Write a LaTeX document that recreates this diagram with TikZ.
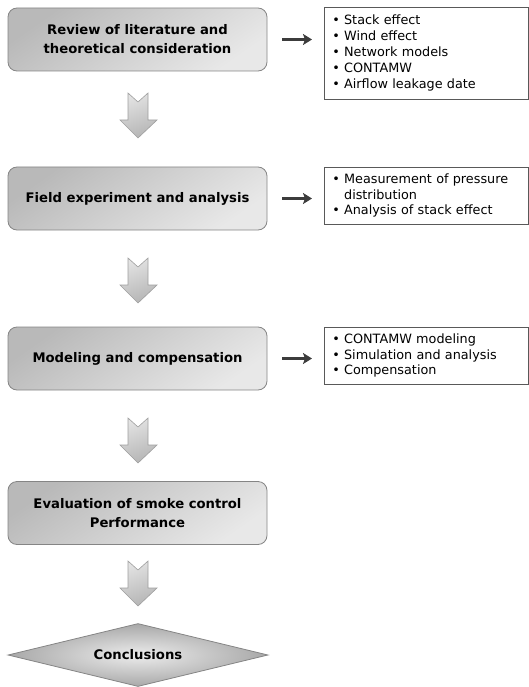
\documentclass[tikz,border=0pt]{standalone}
\usepackage{fontspec}
\setmainfont{DejaVu Sans}
\usetikzlibrary{shapes.geometric,arrows.meta}
\definecolor{boxline}{HTML}{858585}
\definecolor{arrowdark}{HTML}{3C3C3C}
\tikzset{
  stage/.style={draw=boxline, line width=0.8pt, rounded corners=9pt,
    top color=gray!55, bottom color=gray!18, shading angle=35,
    minimum width=259pt, minimum height=63pt, inner sep=0pt,
    align=center, font=\fontsize{13.2}{19}\selectfont\bfseries},
  listbox/.style={draw=gray!70!black, line width=0.6pt, fill=white,
    minimum width=204pt, inner xsep=8pt, inner ysep=0pt,
    text width=188pt, align=left, anchor=north west,
    font=\fontsize{12.8}{16}\selectfont},
  endnode/.style={diamond, draw=boxline, line width=0.8pt, aspect=4.1,
    minimum width=260pt, minimum height=63pt, inner sep=0pt,
    inner color=gray!15, outer color=gray!68,
    font=\fontsize{13.2}{19}\selectfont\bfseries},
  harrow/.style={draw=arrowdark, line width=2.6pt,
    -{Stealth[length=9pt,width=11pt,inset=2pt]}},
  blockarrow/.pic={
    \path[draw=gray!75, line width=0.6pt, top color=gray!22, bottom color=gray!58, shading angle=20]
      (-10,0) -- (0,9) -- (10,0) -- (10,27) -- (19,27) -- (0,45) -- (-18,27) -- (-10,27) -- cycle;
  }
}
\begin{document}
\begin{tikzpicture}[x=1pt,y=-1pt]
\useasboundingbox (0,0) rectangle (528,687);
% stage boxes
\node[stage] (b1) at (137.5,39.5) {Review of literature and\\theoretical consideration};
\node[stage] (b2) at (137.5,198.5) {Field experiment and analysis};
\node[stage] (b3) at (137.5,358.5) {Modeling and compensation};
\node[stage] (b4) at (137.5,513) {Evaluation of smoke control\\Performance};
\node[endnode] (c) at (138,655) {Conclusions};
% list boxes
\node[listbox, minimum height=92pt] (l1) at (324,7) {%
\textbullet\ Stack effect\\
\textbullet\ Wind effect\\
\textbullet\ Network models\\
\textbullet\ CONTAMW\\
\textbullet\ Airflow leakage date};
\node[listbox, minimum height=57pt, font=\fontsize{12.8}{15.5}\selectfont] (l2) at (324,167) {%
\textbullet\ Measurement of pressure\\
\phantom{\textbullet\ }distribution\\
\textbullet\ Analysis of stack effect};
\node[listbox, minimum height=57pt, font=\fontsize{12.8}{15.5}\selectfont] (l3) at (324,327) {%
\textbullet\ CONTAMW modeling\\
\textbullet\ Simulation and analysis\\
\textbullet\ Compensation};
% horizontal arrows
\draw[harrow] ([xshift=15pt]b1.east) -- ([xshift=-12pt]b1.east -| l1.west);
\draw[harrow] ([xshift=15pt]b2.east) -- ([xshift=-12pt]b2.east -| l2.west);
\draw[harrow] ([xshift=15pt]b3.east) -- ([xshift=-12pt]b3.east -| l3.west);
% block arrows
\pic at (138,93) {blockarrow};
\pic at (138,258) {blockarrow};
\pic at (138,418) {blockarrow};
\pic at (138,561) {blockarrow};
\end{tikzpicture}
\end{document}
